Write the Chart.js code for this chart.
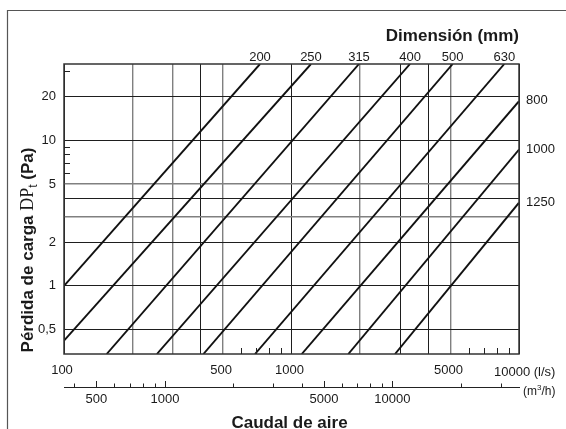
<!DOCTYPE html>
<html>
<head>
<meta charset="utf-8">
<script src="https://cdn.jsdelivr.net/npm/chart.js@4.4.1/dist/chart.umd.min.js"></script>
<style>
  html, body { margin: 0; padding: 0; background: #fff; }
  canvas { display: block; }
</style>
</head>
<body>
<canvas id="grafico" width="566" height="429" style="width:566px;height:429px"></canvas>
<script>
// Dimensiones de conducto (mm) y extremos de cada recta
const dimensiones = ['200', '250', '315', '400', '500', '630', '800', '1000', '1250'];
const caudalInicio = [100, 100, 154, 256, 410, 691, 1109, 1777, 2851];      // l/s
const perdidaInicio = [1.0, 0.42, 0.34, 0.34, 0.34, 0.34, 0.34, 0.34, 0.34]; // Pa
const caudalFin = [727, 1218, 1980, 3319, 5111, 8618, 10000, 10000, 10000];  // l/s
const perdidaFin = [33.5, 33.5, 33.5, 33.5, 33.5, 33.5, 18.6, 8.65, 3.73];  // Pa

// Ejes
const caudalMin = 100, caudalMax = 10000;
const perdidaMin = 0.34, perdidaMax = 33.5;
const rejillaX = [100, 200, 300, 400, 500, 1000, 2000, 3000, 4000, 5000, 10000];
const etiquetasX = [100, 500, 1000, 5000];
const marcasX = [600, 700, 800, 900, 6000, 7000, 8000, 9000];
const rejillaY = [0.5, 1, 2, 3, 4, 5, 10, 20];
const etiquetasY = [0.5, 1, 2, 5, 10, 20];
const marcasY = [30, 9, 8, 7, 6];
const grisesX = [200, 300, 500, 2000, 5000];
const grisesY = [5, 3];

// Eje secundario en m3/h
const m3hMayores = [500, 1000, 5000, 10000];
const m3hMenores = [400, 600, 700, 800, 900, 2000, 3000, 4000, 6000, 7000, 8000, 9000, 20000, 30000];

const sans = "'Liberation Sans', Arial, Helvetica, sans-serif";
const serif = "'Liberation Serif', 'Times New Roman', serif";

const decoracion = {
    id: 'decoracion',
    afterDraw(chart) {
        const c = chart.ctx;
        const a = chart.chartArea;
        const sx = chart.scales.x, sy = chart.scales.y;
        c.save();

        // marco exterior
        c.strokeStyle = '#555';
        c.lineWidth = 1.2;
        c.beginPath();
        c.moveTo(7.5, 429);
        c.lineTo(7.5, 10.5);
        c.lineTo(566, 10.5);
        c.stroke();

        // borde del area
        c.strokeStyle = '#333';
        c.lineWidth = 1.5;
        c.strokeRect(a.left, a.top, a.right - a.left, a.bottom - a.top);

        // marcas interiores
        c.lineWidth = 1;
        c.strokeStyle = '#222';
        c.beginPath();
        marcasY.forEach(v => {
            const y = Math.round(sy.getPixelForValue(v)) + 0.5;
            c.moveTo(a.left, y); c.lineTo(a.left + 6, y);
        });
        marcasX.forEach(v => {
            const x = Math.round(sx.getPixelForValue(v)) + 0.5;
            c.moveTo(x, a.bottom); c.lineTo(x, a.bottom - 6);
        });
        c.stroke();

        // etiquetas de dimension
        c.fillStyle = '#1a1a1a';
        c.font = '13px ' + sans;
        c.textBaseline = 'alphabetic';
        dimensiones.forEach((d, i) => {
            const x = sx.getPixelForValue(caudalFin[i]);
            const y = sy.getPixelForValue(perdidaFin[i]);
            if (perdidaFin[i] >= perdidaMax) {
                c.textAlign = 'center';
                c.fillText(d, x, 61);
            } else {
                c.textAlign = 'left';
                c.fillText(d, a.right + 7, y + 3);
            }
        });

        // titulo superior
        c.font = 'bold 17px ' + sans;
        c.textAlign = 'right';
        c.fillText('Dimensión (mm)', a.right, 41);

        // titulo inferior
        c.textAlign = 'center';
        c.fillText('Caudal de aire', (a.left + a.right) / 2 - 2, 428);

        // unidades l/s
        c.font = '13px ' + sans;
        c.textAlign = 'left';
        c.fillText('10000 (l/s)', 494, 375.5);

        // eje secundario m3/h
        const yEje = 387;
        c.strokeStyle = '#222';
        c.lineWidth = 1.2;
        c.beginPath();
        c.moveTo(a.left, yEje + 0.5);
        c.lineTo(a.right + 1, yEje + 0.5);
        c.stroke();
        c.lineWidth = 1;
        c.beginPath();
        m3hMenores.forEach(v => {
            const x = Math.round(sx.getPixelForValue(v / 3.6)) + 0.5;
            c.moveTo(x, yEje); c.lineTo(x, yEje - 3.5);
        });
        m3hMayores.forEach(v => {
            const x = Math.round(sx.getPixelForValue(v / 3.6)) + 0.5;
            c.moveTo(x, yEje); c.lineTo(x, yEje - 6);
        });
        c.stroke();
        c.textAlign = 'center';
        m3hMayores.forEach(v => {
            c.fillText(String(v), sx.getPixelForValue(v / 3.6), 403);
        });
        c.textAlign = 'left';
        c.font = '12px ' + sans;
        let ux = 523;
        c.fillText('(m', ux, 395);
        ux += c.measureText('(m').width;
        c.font = '8px ' + sans;
        c.fillText('3', ux, 390);
        ux += c.measureText('3').width;
        c.font = '12px ' + sans;
        c.fillText('/h)', ux, 395);

        // titulo eje Y
        c.translate(33, 250);
        c.rotate(-Math.PI / 2);
        const partes = [
            { t: 'Pérdida de carga ', f: 'bold 17px ' + sans, dy: 0 },
            { t: 'DP', f: '18px ' + serif, dy: 0 },
            { t: 't', f: '12px ' + sans, dy: 4 },
            { t: ' (Pa)', f: 'bold 17px ' + sans, dy: 0 }
        ];
        let total = 0;
        partes.forEach(p => { c.font = p.f; p.w = c.measureText(p.t).width; total += p.w; });
        let px = -total / 2;
        c.textAlign = 'left';
        partes.forEach(p => {
            c.font = p.f;
            c.fillText(p.t, px, p.dy);
            px += p.w;
        });

        c.restore();
    }
};

const ctx = document.getElementById('grafico').getContext('2d');
new Chart(ctx, {
    type: 'line',
    data: {
        datasets: dimensiones.map((d, i) => ({
            label: d,
            data: [
                { x: caudalInicio[i], y: perdidaInicio[i] },
                { x: caudalFin[i], y: perdidaFin[i] }
            ],
            borderColor: '#111',
            borderWidth: 1.9,
            pointRadius: 0,
            fill: false,
            tension: 0
        }))
    },
    options: {
        responsive: false,
        animation: false,
        layout: { padding: { left: 0, top: 64, right: 47, bottom: 0 } },
        plugins: {
            legend: { display: false },
            tooltip: { enabled: false }
        },
        scales: {
            x: {
                type: 'logarithmic',
                bounds: 'data',
                min: caudalMin,
                max: caudalMax,
                afterBuildTicks: s => {
                    s.ticks = rejillaX.map(v => ({ value: v }));
                    s.min = caudalMin; s.max = caudalMax;
                },
                afterFit: s => { s.height = 75; },
                border: { display: false },
                grid: {
                    drawTicks: false,
                    color: c => grisesX.includes(c.tick && c.tick.value) ? '#808080' : '#1e1e1e',
                    lineWidth: c => grisesX.includes(c.tick && c.tick.value) ? 1.4 : 1
                },
                ticks: {
                    autoSkip: false,
                    maxRotation: 0,
                    padding: 9,
                    labelOffset: -2,
                    color: '#1a1a1a',
                    font: { family: sans, size: 13 },
                    callback: v => etiquetasX.includes(v) ? String(v) : ''
                }
            },
            y: {
                type: 'logarithmic',
                bounds: 'data',
                min: perdidaMin,
                max: perdidaMax,
                afterBuildTicks: s => {
                    s.ticks = rejillaY.map(v => ({ value: v }));
                    s.min = perdidaMin; s.max = perdidaMax;
                },
                afterFit: s => { s.width = 64; },
                border: { display: false },
                grid: {
                    drawTicks: false,
                    color: c => grisesY.includes(c.tick && c.tick.value) ? '#808080' : '#1e1e1e',
                    lineWidth: c => grisesY.includes(c.tick && c.tick.value) ? 1.4 : 1
                },
                ticks: {
                    autoSkip: false,
                    padding: 8,
                    color: '#1a1a1a',
                    font: { family: sans, size: 13 },
                    callback: v => etiquetasY.includes(v) ? String(v).replace('.', ',') : ''
                }
            }
        }
    },
    plugins: [decoracion]
});
</script>
</body>
</html>
